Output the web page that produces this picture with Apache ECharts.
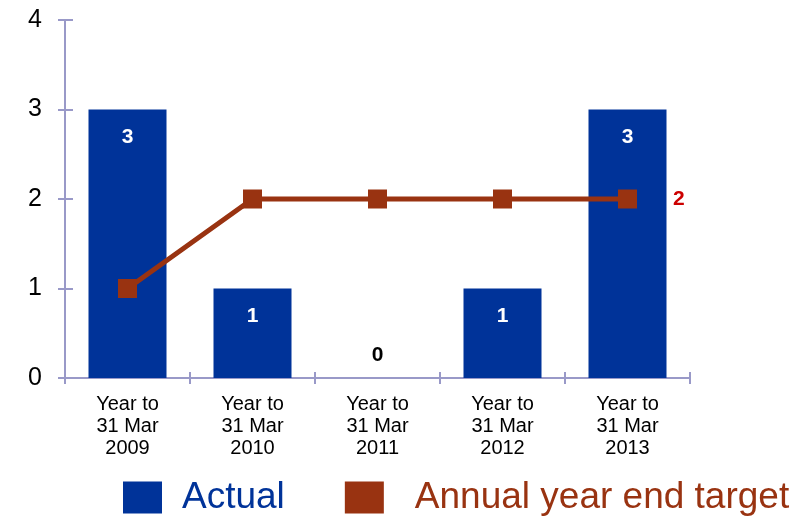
<!DOCTYPE html>
<html><head><meta charset="utf-8">
<script src="https://cdn.jsdelivr.net/npm/echarts@6/dist/echarts.min.js"></script>
<style>html,body{margin:0;padding:0;background:#fff}#c{width:806px;height:517px}</style>
</head><body><div id="c"></div>
<script>
const categories = ["Year to\n31 Mar\n2009","Year to\n31 Mar\n2010","Year to\n31 Mar\n2011","Year to\n31 Mar\n2012","Year to\n31 Mar\n2013"];
const actual = [3, 1, 0, 1, 3];
const target = [1, 2, 2, 2, 2];
const yTicks = [0, 1, 2, 3, 4];

const FONT = "Liberation Sans, Arial, sans-serif";
const BLUE = "#003399";
const BROWN = "#993311";
const AXIS = "#9999c8";

const chart = echarts.init(document.getElementById('c'), null, {renderer:'canvas'});
const yBase = {type:'value', min:yTicks[0], max:yTicks[yTicks.length-1], interval:1, splitLine:{show:false}};
chart.setOption({
  animation:false,
  textStyle:{fontFamily:FONT},
  grid:{left:65, right:116, top:20, bottom:139},
  legend:{
    top:479, left:123, width:700, itemWidth:39, itemHeight:32, itemGap:60,
    icon:'rect', padding:0,
    textStyle:{fontSize:37, lineHeight:36, fontFamily:FONT},
    data:[
      {name:'Actual', textStyle:{color:BLUE, padding:[0,0,0,15]}},
      {name:'Annual year end target', textStyle:{color:BROWN, padding:[0,0,0,26]}}
    ]
  },
  xAxis:[
    {type:'category', data:categories, boundaryGap:true,
     axisLine:{lineStyle:{color:AXIS, width:2}},
     axisTick:{show:true, length:6, lineStyle:{color:AXIS, width:2}},
     axisLabel:{color:'#000', fontSize:20, lineHeight:22, margin:15, fontFamily:FONT}},
    {type:'category', data:categories, boundaryGap:true, position:'bottom',
     axisLine:{show:false},
     axisTick:{show:true, inside:true, length:6, lineStyle:{color:AXIS, width:2}},
     axisLabel:{show:false}}
  ],
  yAxis:[
    Object.assign({}, yBase, {
      axisLine:{show:true, lineStyle:{color:AXIS, width:2}},
      axisTick:{show:true, length:7, lineStyle:{color:AXIS, width:2}},
      axisLabel:{color:'#000', fontSize:25, margin:23, fontFamily:FONT, formatter:v=>String(v)}}),
    Object.assign({}, yBase, {position:'left',
      axisLine:{show:false},
      axisTick:{show:true, inside:true, length:8, lineStyle:{color:AXIS, width:2}},
      axisLabel:{show:false}})
  ],
  series:[
    {name:'Actual', type:'bar', data:actual.map(v=>({
        value:v,
        label: v===0 ? {position:'top', color:'#000', distance:12} : {position:'insideTop', color:'#fff', distance:17}
      })),
     barWidth:78, itemStyle:{color:BLUE},
     label:{show:true, fontSize:21, fontWeight:'bold', fontFamily:FONT}},
    {name:'Annual year end target', type:'line', data:target.map((v,i)=>({
        value:v,
        label: i===target.length-1 ? {show:true, position:'right', distance:36, color:'#cc0000', fontSize:21, fontWeight:'bold', fontFamily:FONT} : {show:false}
      })),
     symbol:'rect', symbolSize:19, lineStyle:{color:BROWN, width:5},
     itemStyle:{color:BROWN}, z:5}
  ]
});
</script></body></html>
